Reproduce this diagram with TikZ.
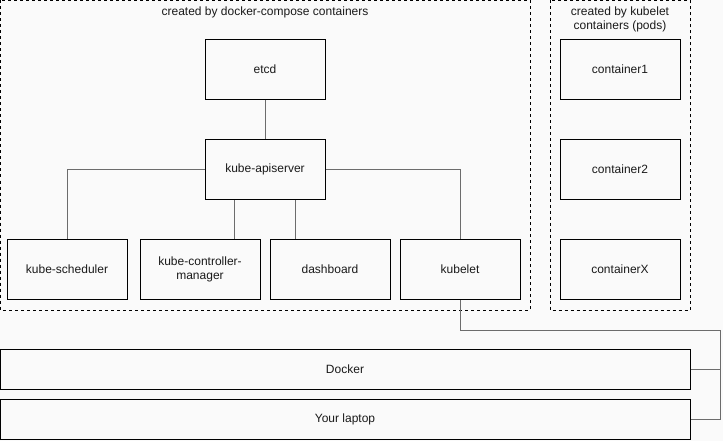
\documentclass[tikz,border=0pt]{standalone}
\usepackage{fontspec}
\setmainfont{Liberation Sans}
\begin{document}
\begin{tikzpicture}[x=1pt,y=-1pt,
  font=\fontsize{12}{14}\selectfont,
  box/.style={draw=black, fill=bgc, line width=1pt, minimum width=120pt, minimum height=60pt, inner sep=0pt, align=center, text=txt},
  wide/.style={draw=black, fill=bgc, line width=1pt, minimum width=690pt, minimum height=40pt, inner sep=0pt, text=txt},
  grp/.style={draw=black, dashed, dash pattern=on 3pt off 3pt, line width=1pt, fill=bgc},
  conn/.style={draw=gray!85!black, line width=1pt}]
\definecolor{bgc}{RGB}{250,250,250}
\definecolor{txt}{RGB}{26,26,26}
\fill[bgc] (0,0) rectangle (723,441);
\useasboundingbox (0,0) rectangle (723,441);
% groups
\draw[grp] (0.5,0.5) rectangle (530,310);
\draw[grp] (550,0.5) rectangle (690,310);
\node[text=txt] (g1) at (265,12.5) {created by docker-compose containers};
\node[text=txt, align=center] (g2) at (620,19.5) {created by kubelet\\containers (pods)};
% nodes
\node[box] (etcd) at (265,69.5) {etcd};
\node[box] (api) at (265,169.5) {kube-apiserver};
\node[box] (sched) at (67,269.5) {kube-scheduler};
\node[box] (ctrl) at (200,269.5) {kube-controller-\\manager};
\node[box] (dash) at (330,269.5) {dashboard};
\node[box] (kubelet) at (460,269.5) {kubelet};
\node[box] (c1) at (620,69.5) {container1};
\node[box] (c2) at (620,169.5) {container2};
\node[box] (cx) at (620,269.5) {containerX};
\node[wide] (docker) at (345,369.5) {Docker};
\node[wide] (laptop) at (345,419.5) {Your laptop};
\coordinate (r1) at (720,330);
\coordinate (a1) at ([xshift=30pt]api.south west);
\coordinate (a2) at ([xshift=-30pt]api.south east);
% connectors
\draw[conn] (etcd.south) -- (api.north);
\draw[conn] (api.west) -| (sched.north);
\draw[conn] (a1) -- (a1 |- ctrl.north);
\draw[conn] (a2) -- (a2 |- dash.north);
\draw[conn] (api.east) -| (kubelet.north);
\draw[conn] (kubelet.south) |- (r1) |- (laptop.east);
\draw[conn] (docker.east) -- (docker.east -| r1);
\end{tikzpicture}
\end{document}
